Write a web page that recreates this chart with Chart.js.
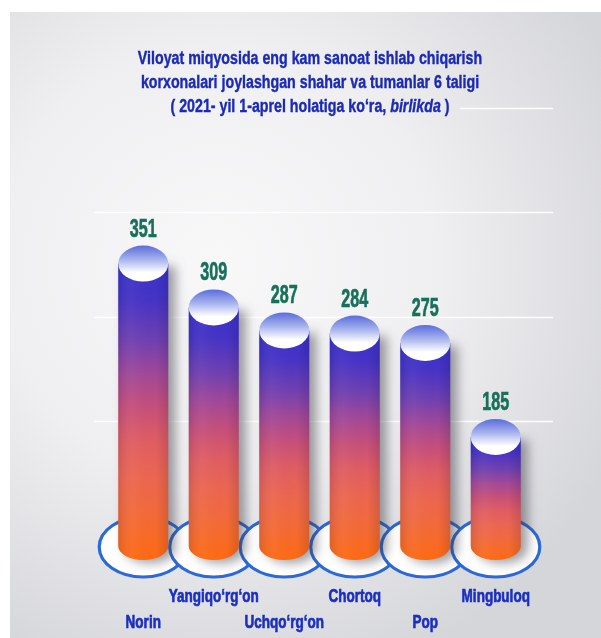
<!DOCTYPE html>
<html>
<head>
<meta charset="utf-8">
<script src="https://cdn.jsdelivr.net/npm/chart.js@4"></script>
<style>
  html, body { margin: 0; padding: 0; background: #fff; }
  #wrap { position: relative; width: 601px; height: 638px; overflow: hidden; }
  #panel {
    position: absolute; left: 10px; top: 12px; width: 591px; height: 626px;
    background: radial-gradient(ellipse 75% 70% at 35% 40%, #f8f8f9 0%, #efeff1 50%, #d5d6da 100%);
  }
  /* the title box hides the top line behind it, so it gets the same backdrop */
  #title {
    position: absolute; left: 90px; top: 46px; width: 300px; height: 76px; padding-left: 70px;
    background: radial-gradient(ellipse 75% 70% at 35% 40%, #f8f8f9 0%, #efeff1 50%, #d5d6da 100%);
    background-size: 591px 626px; background-position: -80px -34px; background-repeat: no-repeat;
    z-index: 2;
    font: bold 18px "Liberation Sans", Arial, sans-serif; line-height: 24px; color: #1a2ab6;
    -webkit-text-stroke: 0.4px #1a2ab6;
  }
  #title div {
    width: 600px; margin-left: -150px;
    text-align: center; white-space: nowrap; transform: scaleX(0.79);
  }
  canvas { position: absolute; left: 0; top: 0; z-index: 1; }
</style>
</head>
<body>
<div id="wrap">
  <div id="panel"></div>
  <canvas id="myChart" width="601" height="638"></canvas>
  <div id="title">
    <div>Viloyat miqyosida eng kam sanoat ishlab chiqarish</div>
    <div>korxonalari joylashgan shahar va tumanlar 6 taligi</div>
    <div>( 2021- yil 1-aprel holatiga ko‘ra, <i>birlikda</i> )</div>
  </div>
</div>
<script>
// shahar va tumanlar
var categories = ['Norin', 'Yangiqo‘rg‘on', 'Uchqo‘rg‘on', 'Chortoq', 'Pop', 'Mingbuloq'];
// korxonalar soni
var values = [351, 309, 287, 284, 275, 185];
// which row each name goes on (labels are staggered)
var labelRows = [2, 1, 2, 1, 2, 1];
// background lines
var gridValues = [200, 300, 400, 500];
var yMin = 72, yMax = 500;

var sans = '"Liberation Sans", Arial, sans-serif';

// heavy text squeezed sideways, like a narrow face
function narrowText(ctx, text, x, y, sx) {
    ctx.save();
    ctx.translate(x, y);
    ctx.scale(sx, 1);
    ctx.lineWidth = 0.7;
    ctx.strokeStyle = ctx.fillStyle;
    ctx.fillText(text, 0, 0);
    ctx.strokeText(text, 0, 0);
    ctx.restore();
}

var cylinders = {
    id: 'cylinders',
    beforeDatasetsDraw: function (chart) {
        var ctx = chart.ctx, area = chart.chartArea, y = chart.scales.y;
        ctx.save();
        ctx.strokeStyle = 'rgba(255,255,255,0.95)';
        ctx.lineWidth = 1.5;
        gridValues.forEach(function (v) {
            var py = Math.round(y.getPixelForValue(v)) + 0.5;
            ctx.beginPath();
            ctx.moveTo(area.left - 14, py);
            ctx.lineTo(area.right + 22, py);
            ctx.stroke();
        });
        // rings at the feet
        chart.getDatasetMeta(0).data.forEach(function (bar) {
            ctx.beginPath();
            ctx.ellipse(bar.x, bar.base - 8, bar.width * 0.88, 30, 0, 0, Math.PI * 2);
            ctx.fillStyle = '#ffffff';
            ctx.fill();
            ctx.lineWidth = 3.2;
            ctx.strokeStyle = '#2b68d8';
            ctx.stroke();
        });
        ctx.restore();
    },
    afterDatasetsDraw: function (chart) {
        var ctx = chart.ctx;
        var xs = chart.scales.x;
        var meta = chart.getDatasetMeta(0);
        meta.data.forEach(function (bar, i) {
            var r = bar.width / 2, top = bar.y, base = bar.base + 5;
            var ryTop = 18, ryBot = 14;

            var body = ctx.createLinearGradient(0, top, 0, base);
            body.addColorStop(0, '#3a31cc');
            body.addColorStop(0.12, '#4533c6');
            body.addColorStop(0.26, '#7040b0');
            body.addColorStop(0.37, '#a04898');
            body.addColorStop(0.49, '#c85078');
            body.addColorStop(0.6, '#e05d62');
            body.addColorStop(0.72, '#ec6650');
            body.addColorStop(0.85, '#f36a38');
            body.addColorStop(1, '#ff6a12');

            function bodyPath() {
                ctx.beginPath();
                ctx.moveTo(bar.x - r, top);
                ctx.lineTo(bar.x - r, base - ryBot);
                ctx.ellipse(bar.x, base - ryBot, r, ryBot, 0, Math.PI, 0, true);
                ctx.lineTo(bar.x + r, top);
                ctx.closePath();
            }

            ctx.save();
            ctx.shadowColor = 'rgba(60,60,70,0.5)';
            ctx.shadowBlur = 11;
            ctx.shadowOffsetX = 7;
            ctx.shadowOffsetY = 3;
            bodyPath();
            ctx.fillStyle = body;
            ctx.fill();
            ctx.restore();

            ctx.save();
            // a little roundness across the body
            var side = ctx.createLinearGradient(bar.x - r, 0, bar.x + r, 0);
            side.addColorStop(0, 'rgba(0,0,40,0.10)');
            side.addColorStop(0.3, 'rgba(255,255,255,0.03)');
            side.addColorStop(0.75, 'rgba(0,0,0,0)');
            side.addColorStop(1, 'rgba(0,0,40,0.12)');
            bodyPath();
            ctx.fillStyle = side;
            ctx.fill();

            // top cap
            var cap = ctx.createLinearGradient(0, top - ryTop, 0, top + ryTop);
            cap.addColorStop(0, '#5a6cdc');
            cap.addColorStop(0.4, '#aab6ee');
            cap.addColorStop(0.75, '#ffffff');
            cap.addColorStop(1, '#ffffff');
            ctx.beginPath();
            ctx.ellipse(bar.x, top, r, ryTop, 0, 0, Math.PI * 2);
            ctx.fillStyle = cap;
            ctx.fill();

            // value
            ctx.font = 'bold 26px ' + sans;
            ctx.fillStyle = '#17705a';
            ctx.textAlign = 'center';
            ctx.textBaseline = 'alphabetic';
            narrowText(ctx, String(values[i]), bar.x, top - ryTop - 9, 0.62);

            // category name, staggered in two rows under the rings
            ctx.font = 'bold 18.5px ' + sans;
            ctx.fillStyle = '#1a2fc2';
            var rowY = labelRows[i] === 1 ? bar.base + 47 : bar.base + 73;
            narrowText(ctx, categories[i], xs.getPixelForValue(i), rowY, 0.73);
            ctx.restore();
        });
    }
};

var ctx = document.getElementById('myChart').getContext('2d');
var chart = new Chart(ctx, {
    type: 'bar',
    data: {
        labels: categories,
        datasets: [{
            data: values,
            base: yMin,
            backgroundColor: 'rgba(0,0,0,0)',
            borderWidth: 0,
            barPercentage: 0.71,
            categoryPercentage: 1
        }]
    },
    options: {
        responsive: false,
        animation: false,
        layout: { padding: { left: 108, right: 70, top: 108, bottom: 83 } },
        plugins: {
            legend: { display: false },
            tooltip: { enabled: false }
        },
        scales: {
            x: { display: false },
            y: { display: false, min: yMin, max: yMax }
        }
    },
    plugins: [cylinders]
});
</script>
</body>
</html>
